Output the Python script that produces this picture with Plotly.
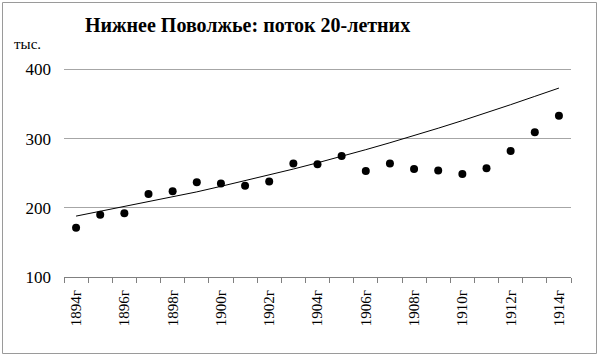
import plotly.graph_objects as go

years = list(range(1894, 1915))
values = [171, 190, 192, 220, 224, 237, 235, 232, 238, 264, 263, 275,
          253, 264, 256, 254, 249, 257, 282, 309, 333]
trend = [188, 195, 201, 208, 216, 223, 231, 239, 247, 256, 265, 274,
         284, 294, 304, 315, 326, 337, 349, 361, 373]
tick_years = list(range(1894, 1915, 2))
tick_labels = [f"{y}г" for y in tick_years]

FONT = "Liberation Serif"
W, H = 600, 358
L, R, T, B = 64, 29, 68, 81
pw, ph = W - L - R, H - T - B

fig = go.Figure()
fig.add_trace(go.Scatter(x=years, y=trend, mode="lines",
                         line=dict(color="black", width=1), hoverinfo="skip"))
fig.add_trace(go.Scatter(x=years, y=values, mode="markers",
                         marker=dict(color="black", size=8)))

def px(xp):
    return (xp - L) / pw

def py(yp):
    return (H - B - yp) / ph

fig.add_shape(type="rect", xref="paper", yref="paper",
              x0=px(2.5), x1=px(596.5), y0=py(353.5), y1=py(2.5),
              line=dict(color="#9a9a9a", width=1), layer="below")

fig.add_annotation(text="<b>Нижнее Поволжье: поток 20-летних</b>",
                   xref="paper", yref="paper", x=px(83), y=py(25),
                   xanchor="left", yanchor="middle", showarrow=False,
                   font=dict(family=FONT, size=20, color="black"))
fig.add_annotation(text="тыс.", xref="paper", yref="paper",
                   x=px(12), y=py(44), xanchor="left", yanchor="middle",
                   showarrow=False, font=dict(family=FONT, size=15, color="black"))

fig.update_layout(
    width=W, height=H, margin=dict(l=L, r=R, t=T, b=B),
    paper_bgcolor="white", plot_bgcolor="white", showlegend=False,
    font=dict(family=FONT, color="black"),
    xaxis=dict(range=[1893.5, 1914.5], tickvals=tick_years, ticktext=tick_labels,
               tickangle=-90, ticks="outside", ticklen=0, showgrid=False,
               showline=True, linecolor="#808080", linewidth=1,
               tickfont=dict(family=FONT, size=15, color="black"),
               ticklabelstandoff=6,
               minor=dict(ticks="outside", ticklen=5, tick0=1893.5, dtick=1,
                          tickcolor="#808080", showgrid=False),
               zeroline=False),
    yaxis=dict(range=[100, 402], tickvals=[100, 200, 300, 400],
               showgrid=True, gridcolor="#a6a6a6", gridwidth=1,
               showline=False, zeroline=False, ticks="",
               tickfont=dict(family=FONT, size=17, color="black"),
               ticklabelstandoff=12),
)
fig.write_html("out.html", config={"displayModeBar": False},
               post_script="document.body.style.margin='0';")
